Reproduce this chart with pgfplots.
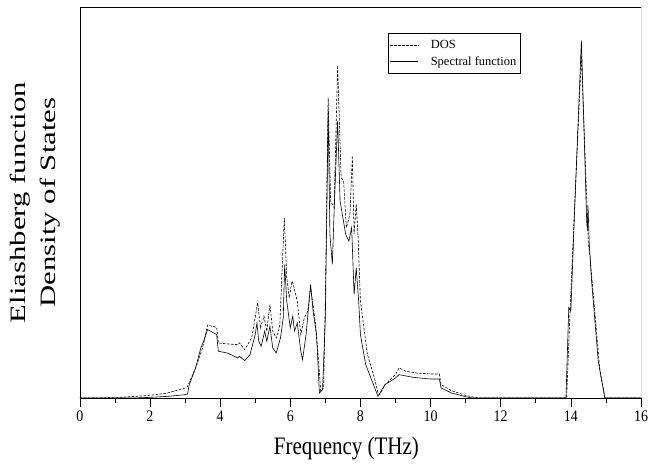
\documentclass[border={5bp 0bp 0bp 7bp}]{standalone}
\usepackage{pgfplots}
\pgfplotsset{compat=1.18}
\usepackage{fontspec}
\setmainfont{Liberation Serif}
\begin{document}
\begin{tikzpicture}
\begin{axis}[
    scale only axis,
    width=560bp, height=390bp,
    xmin=0, xmax=16, ymin=0, ymax=1170,
    xtick={0,2,...,16},
    minor xtick={1,3,...,15},
    ytick=\empty,
    axis x line*=bottom, axis y line*=left,
    tick align=outside,
    major tick length=9bp, minor tick length=5bp,
    tick style={black, line width=0.6pt},
    x axis line style={-}, y axis line style={-},
    xticklabel={\scalebox{1}[1.15]{\pgfmathprintnumber{\tick}}},
    /pgf/number format/assume math mode=true,
    ticklabel style={font=\fontsize{14}{16}\selectfont, inner xsep=0pt},
    xlabel={\scalebox{1}[1.2]{Frequency (THz)}},
    xlabel style={font=\fontsize{21}{24}\selectfont, yshift=-9bp, xshift=-14bp},
    ylabel={\scalebox{1.4}[1]{\begin{tabular}{@{}c@{}}Eliashberg function\\[6bp]Density of States\end{tabular}}},
    ylabel style={font=\fontsize{22}{24}\selectfont, yshift=5bp},
    legend style={at={(0.549,0.933)}, anchor=north west, draw=black,
        font=\fontsize{12.5}{15}\selectfont, row sep=2bp, inner xsep=2bp, inner ysep=5bp,
        /tikz/every odd column/.append style={column sep=10bp}},
    legend cell align=left,
    legend image code/.code={\draw[#1] (0bp,0bp) -- (28bp,0bp);},
]
\draw[line width=0.6pt] (rel axis cs:0,1) -- (rel axis cs:1,1) -- (rel axis cs:1,0);
% DOS
\addplot[black, line width=0.6pt, dash pattern=on 2.5pt off 1.5pt] coordinates {
(0,0) (1,1) (2,8) (2.5,15) (3.0,30) (3.07,35) (3.3,90) (3.5,150) (3.64,218)
(3.9,212) (3.95,165) (4.2,162) (4.5,160) (4.55,165) (4.7,145) (4.9,180)
(5.07,285) (5.15,210) (5.25,245) (5.33,200) (5.42,280) (5.5,200) (5.6,180)
(5.7,215) (5.83,540) (5.9,360) (5.97,300) (6.05,350) (6.1,335) (6.2,290)
(6.3,190) (6.4,240) (6.5,260) (6.58,330) (6.7,240) (6.8,120) (6.87,20)
(6.95,30) (7.0,290) (7.08,900) (7.15,590) (7.25,570) (7.35,995) (7.45,660)
(7.52,650) (7.6,510) (7.7,550) (7.77,725) (7.82,490) (7.88,580) (7.93,490)
(8.0,290) (8.2,130) (8.4,60) (8.5,15) (8.55,10) (8.7,40) (9.0,70) (9.1,90)
(9.3,80) (9.6,75) (10.0,72) (10.25,72) (10.3,40) (10.6,22) (11.0,8)
(11.3,1) (11.4,0) (13.88,0) (13.96,216) (14.1,560) (14.3,1025) (14.5,461)
(14.54,430) (14.83,80) (14.97,0) (16,0)
};
\addlegendentry{DOS}
% Spectral function
\addplot[black, line width=0.6pt] coordinates {
(0,0) (1.5,0) (2,2) (2.5,5) (3.0,10) (3.07,12) (3.12,40) (3.3,90) (3.45,150)
(3.55,175) (3.64,205) (3.9,190) (3.95,140) (4.2,135) (4.5,120) (4.55,125)
(4.7,112) (4.85,130) (5.0,190) (5.05,225) (5.1,170) (5.17,155) (5.27,200)
(5.33,170) (5.42,215) (5.5,150) (5.6,135) (5.72,180) (5.8,240) (5.84,400)
(5.9,290) (6.0,210) (6.07,245) (6.12,200) (6.2,225) (6.3,140) (6.35,115)
(6.45,190) (6.58,340) (6.65,260) (6.75,190) (6.83,15) (6.92,25) (7.0,240)
(7.08,860) (7.13,490) (7.2,400) (7.26,590) (7.35,830) (7.42,590) (7.5,540)
(7.58,490) (7.67,470) (7.75,510) (7.82,310) (7.88,390) (7.95,290) (8.0,190)
(8.15,100) (8.3,60) (8.5,5) (8.7,40) (9.0,60) (9.1,70) (9.5,62) (10.0,57)
(10.25,57) (10.3,30) (10.6,15) (11.0,4) (11.2,0) (13.86,0) (13.94,271)
(14.0,260) (14.11,571) (14.3,1071) (14.45,531) (14.47,500) (14.49,576)
(14.52,470) (14.59,351) (14.78,111) (14.97,0) (16,0)
};
\addlegendentry{Spectral function}
\end{axis}
\end{tikzpicture}
\end{document}
